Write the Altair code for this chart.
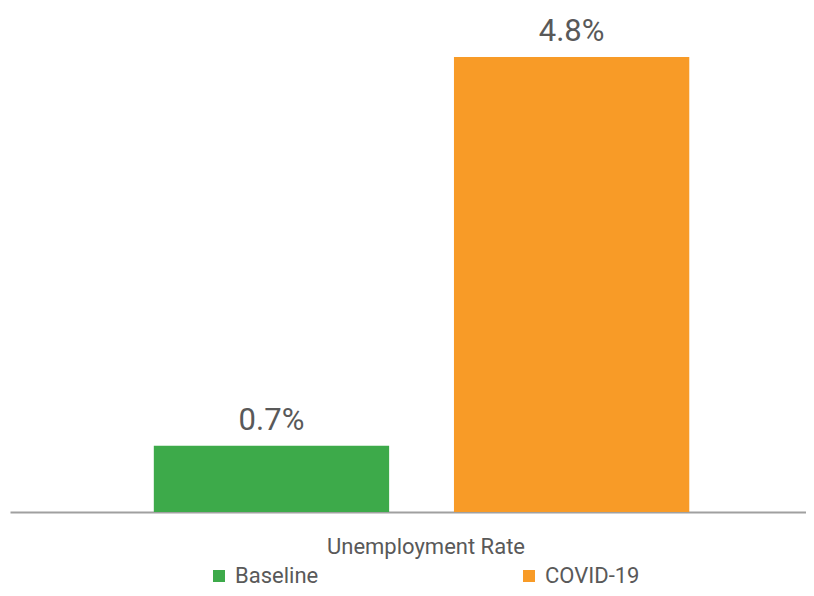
import altair as alt
import pandas as pd

category = ["Unemployment Rate", "Unemployment Rate"]
series = ["Baseline", "COVID-19"]
values = [0.7, 4.8]
colors = ["#3DAA4A", "#F89B27"]

df = pd.DataFrame({"category": category, "series": series, "value": values})

FONT = "Roboto"
TXT = "#595959"

x_enc = alt.X(
    "category:N",
    title=None,
    scale=alt.Scale(paddingInner=0, paddingOuter=0),
    axis=alt.Axis(
        labelAngle=0, labelFontSize=22, labelColor=TXT, labelFont=FONT,
        domainColor="#A0A0A0", domainWidth=2, ticks=False, labelPadding=24,
        labelOffset=18, labelLimit=500, grid=False,
    ),
)
xoff = alt.XOffset(
    "series:N", sort=series,
    scale=alt.Scale(paddingInner=0.216, paddingOuter=0.434, align=0.552),
)
y_enc = alt.Y("value:Q", axis=None, scale=alt.Scale(domain=[0, 5.317], nice=False))

bars = alt.Chart(df).mark_bar().encode(
    x=x_enc, xOffset=xoff, y=y_enc,
    color=alt.Color(
        "series:N",
        scale=alt.Scale(domain=series, range=colors),
        legend=alt.Legend(
            title=None, orient="none", legendX=198, legendY=557,
            direction="horizontal", columns=2, columnPadding=199,
            symbolType="square", symbolSize=144, symbolStrokeWidth=0,
            labelFontSize=22, labelFont=FONT, labelColor=TXT, labelOffset=5,
            padding=0,
        ),
    ),
)

labels = alt.Chart(df).transform_calculate(
    label="format(datum.value, '.1f') + '%'"
).mark_text(
    baseline="bottom", dy=-9, fontSize=31, font=FONT, color=TXT
).encode(x=x_enc, xOffset=xoff, y=y_enc, text="label:N")

chart = (
    alt.layer(bars, labels)
    .properties(width=796, height=504, padding={"left": 2, "top": 0, "right": 0, "bottom": 0})
    .configure_view(strokeWidth=0)
)

chart.save("out.html", embed_options={"renderer": "svg", "actions": False})
